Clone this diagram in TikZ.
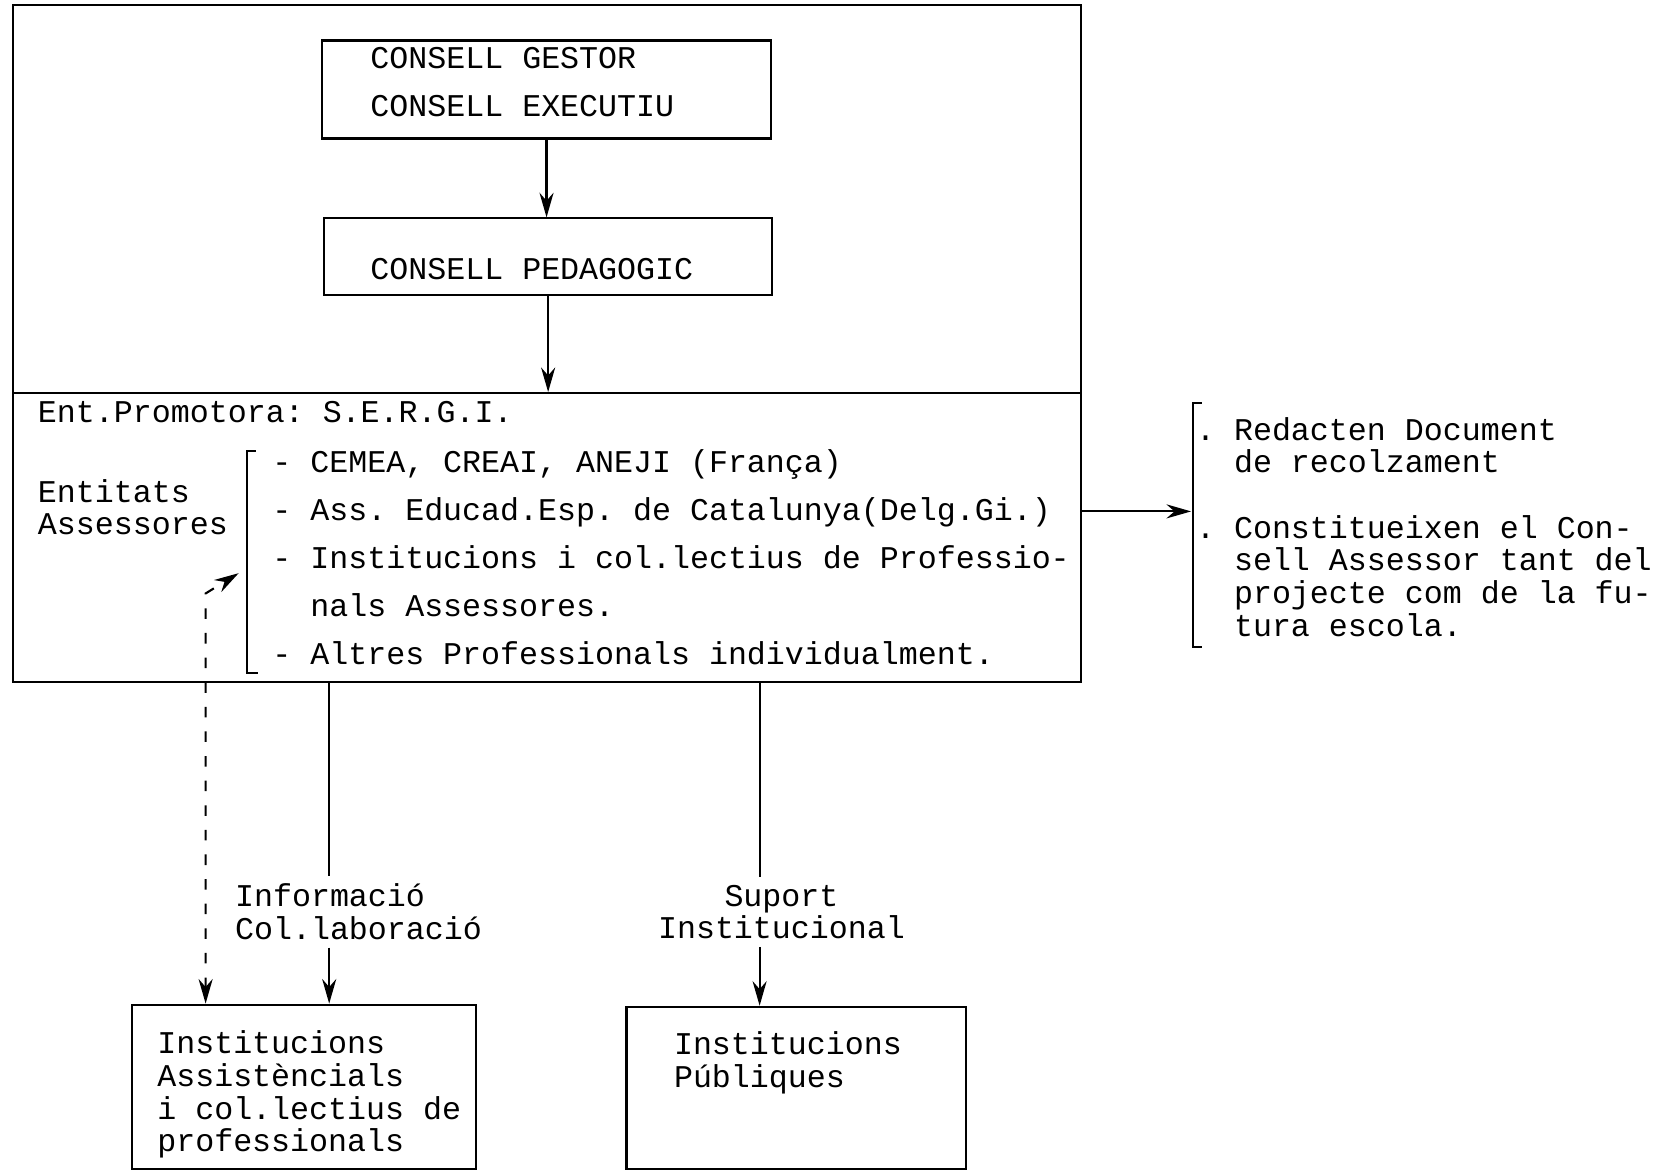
\documentclass[tikz,border=0pt]{standalone}
\usepackage{fontspec}
\setmonofont{Liberation Mono}
\usetikzlibrary{arrows.meta,fit}
\tikzset{
  >={Stealth[length=7pt,width=4pt]},
  box/.style={draw, line width=0.6pt, inner sep=0pt},
  txt/.style={font=\ttfamily\fontsize{9}{9.3}\selectfont, inner sep=0pt, align=left, anchor=north west},
  wide/.style={font=\ttfamily\fontsize{9}{13.7}\selectfont},
  link/.style={line width=0.6pt},
}
\begin{document}
\begin{tikzpicture}[x=0.1065mm, y=-0.1065mm]
  \useasboundingbox (0,0) rectangle (1560,1099.5);
  % main frame, two halves
  \node [box, fit={(12,5) (1015,369)}] (upper) {};
  \node [box, fit={(12,369) (1015,640)}] (lower) {};
  % councils
  \node [box, fit={(302,38) (724,130)}] (gestor) {};
  \node [box, fit={(304,205) (725,277)}] (pedag) {};
  \node [txt, wide] (gestortxt) at (347,44) {CONSELL GESTOR\\CONSELL EXECUTIU};
  \node [txt] (pedagtxt) at (347,242) {CONSELL PEDAGOGIC};
  \draw [link,->] (gestor.south) -- (gestor.south |- pedag.north);
  \draw [link,->] (pedag.south) -- (pedag.south |- lower.north);
  % lower half
  \node [txt] (promo) at (35,376) {Ent.Promotora: S.E.R.G.I.};
  \node [txt] (entitats) at (35,449) {Entitats\\Assessores};
  \node [txt, wide] (items) at (255,421) {- CEMEA, CREAI, ANEJI (França)\\
    - Ass. Educad.Esp. de Catalunya(Delg.Gi.)\\
    - Institucions i col.lectius de Professio-\\
    ~~nals Assessores.\\
    - Altres Professionals individualment.};
  \draw [link] (240,423) -- (232,423) -- (232,632) -- (242,632);
  % right side
  \node [txt] (tasks) at (1122,391) {.~Redacten Document\\
    ~~de recolzament\\[9.3pt]
    .~Constitueixen el Con-\\
    ~~sell Assessor tant del\\
    ~~projecte com de la fu-\\
    ~~tura escola.};
  \draw [link] (1128,378) -- (1120,378) -- (1120,607) -- (1128,607);
  \coordinate (assout) at (1015,480);
  \coordinate (assin) at (1118,480);
  \draw [link,->] (assout) -- (assin);
  % bottom boxes
  \node [box, fit={(124,943) (447,1097)}] (assist) {};
  \node [box, fit={(588,945) (907,1097)}] (public) {};
  \node [txt] (assisttxt) at (147,967) {Institucions\\Assistèncials\\i col.lectius de\\professionals};
  \node [txt] (publictxt) at (632,968) {Institucions\\Públiques};
  % links down
  \node [txt] (infolbl) at (220,829) {Informació\\Col.laboració};
  \node [txt, align=center] (suplbl) at (617,830) {Suport\\Institucional};
  \coordinate (infox) at (309,0);
  \coordinate (supx) at (713,0);
  \draw [link] (lower.south -| infox) -- ([yshift=2pt]infolbl.north -| infox);
  \draw [link,->] ([yshift=-2pt]infolbl.south -| infox) -- (assist.north -| infox);
  \draw [link] (lower.south -| supx) -- ([yshift=2pt]suplbl.north -| supx);
  \draw [link,->] ([yshift=-2pt]suplbl.south -| supx) -- (public.north -| supx);
  \coordinate (dashtop) at (193,557);
  \coordinate (dashtip) at (224,538);
  \draw [link, dash pattern=on 3pt off 4pt, <->] (assist.north -| dashtop) -- (dashtop) -- (dashtip);
\end{tikzpicture}
\end{document}
